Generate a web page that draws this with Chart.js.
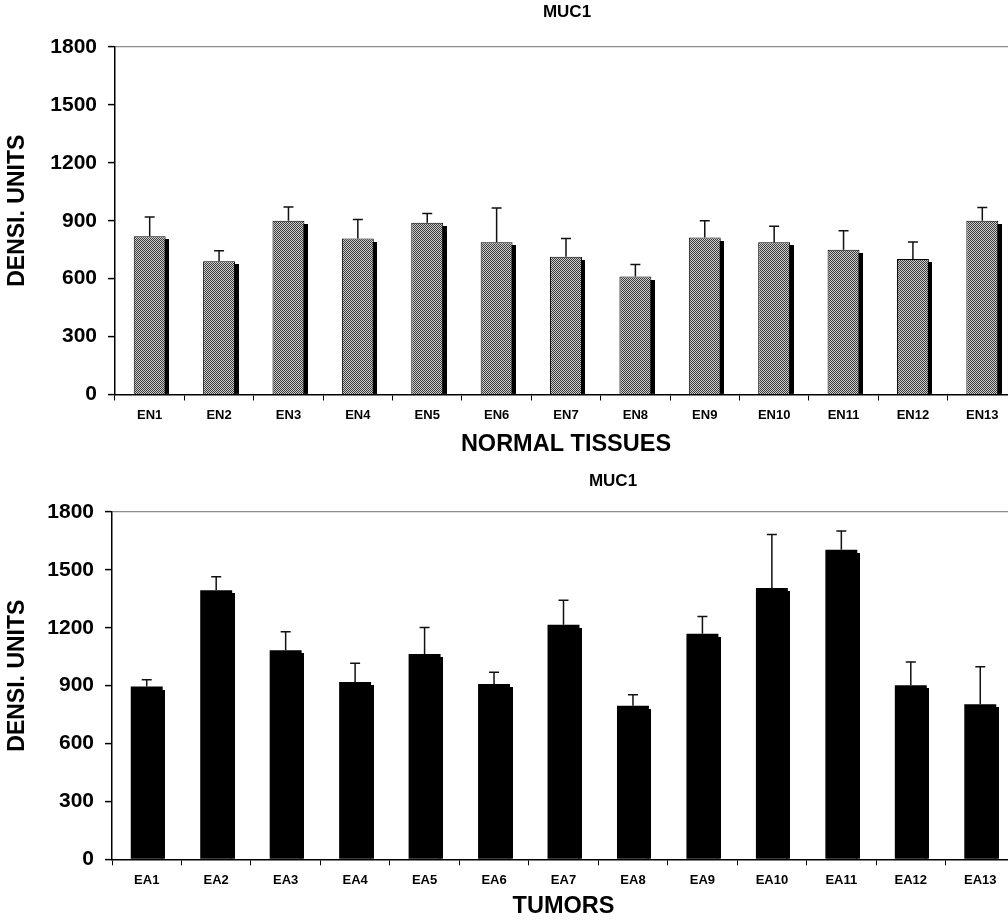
<!DOCTYPE html>
<html>
<head>
<meta charset="utf-8">
<script src="https://cdn.jsdelivr.net/npm/chart.js@4"></script>
<style>
  html, body { margin: 0; padding: 0; background: #fff; overflow: hidden; width: 1008px; height: 922px; }
  .panel { width: 1008px; height: 461px; overflow: hidden; }
  canvas { display: block; }
</style>
</head>
<body>
<div class="panel"><canvas id="normalChart" width="1020" height="461"></canvas></div>
<div class="panel"><canvas id="tumorChart" width="1020" height="461"></canvas></div>
<script>
const normalLabels = ["EN1", "EN2", "EN3", "EN4", "EN5", "EN6", "EN7", "EN8", "EN9", "EN10", "EN11", "EN12", "EN13"];
const normalValues = [820, 690, 900, 808, 890, 789, 714, 611, 813, 789, 750, 702, 900];
const normalErrors = [99, 54, 71, 99, 47, 177, 94, 63, 87, 83, 98, 88, 69];

const tumorLabels = ["EA1", "EA2", "EA3", "EA4", "EA5", "EA6", "EA7", "EA8", "EA9", "EA10", "EA11", "EA12", "EA13"];
const tumorValues = [895, 1394, 1083, 919, 1064, 908, 1216, 796, 1169, 1406, 1604, 902, 803];
const tumorErrors = [35, 70, 96, 97, 138, 62, 126, 57, 90, 278, 97, 120, 195];

const yTicks = [0, 300, 600, 900, 1200, 1500, 1800];

const FONT = "'Liberation Sans', Arial, sans-serif";

// checkered grey fill like the old excel pattern
function makePattern() {
  const c = document.createElement("canvas");
  c.width = 2;
  c.height = 2;
  const g = c.getContext("2d");
  g.fillStyle = "#cfcfcf";
  g.fillRect(0, 0, 2, 2);
  g.fillStyle = "#3a3a3a";
  g.fillRect(0, 0, 1, 1);
  g.fillRect(1, 1, 1, 1);
  return g.createPattern(c, "repeat");
}

// shadow on the right of each bar + upward error bars
const barExtras = {
  id: "barExtras",
  beforeDatasetsDraw(chart, args, opts) {
    const ctx = chart.ctx;
    const meta = chart.getDatasetMeta(0);
    ctx.save();
    ctx.fillStyle = "#000";
    meta.data.forEach(bar => {
      const p = bar.getProps(["x", "y", "base", "width"], true);
      const left = Math.floor(p.x + p.width / 2 - 1);
      const top = Math.round(p.y + opts.shadowDrop);
      ctx.fillRect(left, top, opts.shadowWidth + 1, p.base - top);
    });
    ctx.restore();
  },
  afterDatasetsDraw(chart, args, opts) {
    const ctx = chart.ctx;
    const meta = chart.getDatasetMeta(0);
    const yScale = chart.scales.y;
    const vals = chart.data.datasets[0].data;
    ctx.save();
    ctx.strokeStyle = "#111";
    ctx.lineWidth = 1.5;
    meta.data.forEach((bar, i) => {
      const p = bar.getProps(["x", "y"], true);
      const yTop = yScale.getPixelForValue(vals[i] + opts.errors[i]);
      ctx.beginPath();
      ctx.moveTo(p.x, p.y);
      ctx.lineTo(p.x, yTop);
      ctx.moveTo(p.x - 5, yTop);
      ctx.lineTo(p.x + 5, yTop);
      ctx.stroke();
    });
    ctx.restore();
  }
};

// panel title + y title drawn at fixed spots (both sit off-centre in the original)
const panelText = {
  id: "panelText",
  afterDraw(chart, args, opts) {
    const ctx = chart.ctx;
    ctx.save();
    ctx.fillStyle = "#000";
    ctx.textAlign = "center";
    ctx.textBaseline = "middle";
    ctx.font = "bold 17px " + FONT;
    ctx.fillText(opts.text, opts.x, opts.y);

    const area = chart.chartArea;
    ctx.translate(opts.yTitleX, (area.top + area.bottom) / 2 - 10);
    ctx.rotate(-Math.PI / 2);
    ctx.font = "bold 23px " + FONT;
    ctx.fillText("DENSI. UNITS", 0, 0);
    ctx.restore();
  }
};

function makeChart(id, labels, values, errors, cfg) {
  return new Chart(document.getElementById(id), {
    type: "bar",
    data: {
      labels,
      datasets: [{
        data: values,
        backgroundColor: cfg.fill,
        borderColor: "#000",
        borderWidth: cfg.border,
        borderSkipped: "bottom",
        categoryPercentage: 1,
        barPercentage: 0.46
      }]
    },
    plugins: [barExtras, panelText],
    options: {
      responsive: false,
      animation: false,
      layout: { padding: { top: cfg.top, right: cfg.right, left: 0, bottom: 0 } },
      plugins: {
        legend: { display: false },
        tooltip: { enabled: false },
        barExtras: { errors, shadowWidth: cfg.shadow, shadowDrop: 3 },
        panelText: { text: "MUC1", x: cfg.titleX, y: cfg.titleY, yTitleX: 18 }
      },
      scales: {
        x: {
          grid: { display: true, drawOnChartArea: false, offset: true, color: "#000", tickLength: 6, tickWidth: 1 },
          border: { color: "#000", width: 1.5 },
          ticks: { color: "#000", font: { family: FONT, size: 13, weight: "bold" }, padding: 7, maxRotation: 0, autoSkip: false },
          title: { display: true, text: cfg.xTitle, color: "#000", font: { family: FONT, size: 23.5, weight: "bold" }, padding: cfg.xTitlePad },
          afterFit(scale) {
            scale.height = cfg.xHeight;
            scale.paddingLeft = 0;
            scale.paddingRight = 0;
          }
        },
        y: {
          min: 0,
          max: 1800,
          afterBuildTicks(scale) {
            scale.ticks = yTicks.map(v => ({ value: v }));
          },
          grid: {
            color: c => (c.tick && c.tick.value === 1800 ? "#8c8c8c" : "rgba(0,0,0,0)"),
            tickColor: "#000",
            tickLength: 7,
            tickWidth: 1.5,
            lineWidth: 1.2
          },
          border: { color: "#000", width: 1.5 },
          ticks: {
            color: "#000",
            font: { family: FONT, size: 21, weight: "bold" },
            padding: 11,
            callback: v => String(v)
          },
          afterFit(scale) {
            scale.width = cfg.left;
            scale.paddingTop = 0;
            scale.paddingBottom = 0;
          }
        }
      }
    }
  });
}

makeChart("normalChart", normalLabels, normalValues, normalErrors, {
  fill: makePattern(),
  border: 1,
  shadow: 4,
  top: 47,
  right: 3,
  left: 115,
  xHeight: 66.5,
  xTitle: "NORMAL TISSUES",
  xTitlePad: 2,
  titleX: 567,
  titleY: 12
});

makeChart("tumorChart", tumorLabels, tumorValues, tumorErrors, {
  fill: "#000",
  border: 0,
  shadow: 3,
  top: 51,
  right: 5,
  left: 112,
  xHeight: 62.7,
  xTitle: "TUMORS",
  xTitlePad: 1,
  titleX: 613,
  titleY: 20
});
</script>
</body>
</html>
